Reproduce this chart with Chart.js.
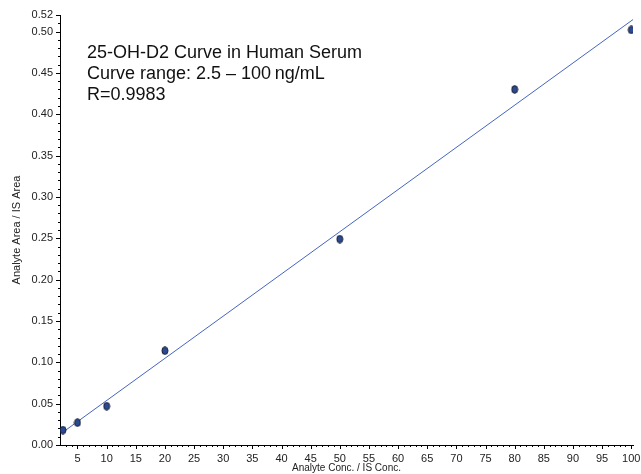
<!DOCTYPE html>
<html>
<head>
<meta charset="utf-8">
<script src="https://cdn.jsdelivr.net/npm/chart.js@4"></script>
<style>
  html, body { margin: 0; padding: 0; background: #fff; }
  canvas { display: block; }
</style>
</head>
<body>
<canvas id="curveChart" width="641" height="474"></canvas>
<script>
// calibration points
const concX = [2.5, 5, 10, 20, 50, 80, 100];
const ratioY = [0.018, 0.027, 0.047, 0.114, 0.249, 0.430, 0.502];
// regression line ends
const fitX = [2.5, 100.3];
const fitY = [0.0155, 0.5145];
// tick labels
const xTicks = [5, 10, 15, 20, 25, 30, 35, 40, 45, 50, 55, 60, 65, 70, 75, 80, 85, 90, 95, 100];
const yTicks = [0, 0.05, 0.10, 0.15, 0.20, 0.25, 0.30, 0.35, 0.40, 0.45, 0.50, 0.52];
const noteLines = ['25-OH-D2 Curve in Human Serum', 'Curve range: 2.5 \u2013 100\u2009ng/mL', 'R=0.9983'];

// oval marker
const dot = document.createElement('canvas');
dot.width = 8; dot.height = 9;
(function () {
    const c = dot.getContext('2d');
    c.beginPath();
    c.ellipse(4, 4.5, 3, 3.8, 0, 0, Math.PI * 2);
    c.fillStyle = '#2b4a93';
    c.fill();
    c.lineWidth = 1;
    c.strokeStyle = '#141a2e';
    c.stroke();
})();

const tickFont = { family: "'Liberation Sans Narrow', 'Liberation Sans', Arial, sans-serif", size: 11 };

// minor/major tick marks + the text block
const extras = {
    id: 'extras',
    afterDraw(chart) {
        const c = chart.ctx;
        const xs = chart.scales.x, ys = chart.scales.y;
        c.save();
        c.strokeStyle = '#000';
        c.lineWidth = 1;
        c.beginPath();
        for (let v = 3; v <= 100; v++) {
            const px = Math.round(xs.getPixelForValue(v)) + 0.5;
            const len = v % 5 === 0 ? 4 : 2;
            c.moveTo(px, xs.top);
            c.lineTo(px, xs.top + len);
        }
        for (let i = 0; i <= 52; i++) {
            const py = Math.round(ys.getPixelForValue(i / 100)) + 0.5;
            const len = (i % 5 === 0 || i === 52) ? 4 : 2;
            c.moveTo(ys.right, py);
            c.lineTo(ys.right - len, py);
        }
        c.stroke();
        c.fillStyle = '#111';
        c.font = "18px 'Liberation Sans', Arial, sans-serif";
        c.textBaseline = 'alphabetic';
        noteLines.forEach((t, i) => c.fillText(t, 87, 58 + i * 21));
        c.restore();
    }
};

const ctx = document.getElementById('curveChart').getContext('2d');
const curveChart = new Chart(ctx, {
    data: {
        datasets: [{
            type: 'line',
            label: 'fit',
            data: fitX.map((x, i) => ({ x: x, y: fitY[i] })),
            borderColor: '#4565c0',
            borderWidth: 1,
            pointRadius: 0,
            fill: false,
            order: 2
        }, {
            type: 'scatter',
            label: 'points',
            data: concX.map((x, i) => ({ x: x, y: ratioY[i] })),
            pointStyle: dot,
            pointRadius: 4,
            order: 1
        }]
    },
    options: {
        responsive: false,
        animation: false,
        layout: { padding: { top: 15, right: 8, left: 0, bottom: 0 } },
        scales: {
            x: {
                type: 'linear',
                min: 2,
                max: 100.3,
                afterBuildTicks: s => { s.ticks = xTicks.map(v => ({ value: v })); },
                afterFit: s => { s.height = 29; s.paddingLeft = 0; s.paddingRight = 0; },
                grid: { drawOnChartArea: false, drawTicks: false },
                border: { display: true, color: '#000', width: 1 },
                ticks: { font: tickFont, color: '#222', padding: 7, maxRotation: 0, autoSkip: false },
                title: {
                    display: true,
                    text: 'Analyte Conc. / IS Conc.',
                    font: { family: tickFont.family, size: 10 },
                    color: '#222',
                    padding: { top: 0, bottom: 0 }
                }
            },
            y: {
                type: 'linear',
                min: 0,
                max: 0.52,
                afterBuildTicks: s => { s.ticks = yTicks.map(v => ({ value: v })); },
                afterFit: s => { s.width = 60; s.paddingTop = 0; s.paddingBottom = 0; },
                grid: { drawOnChartArea: false, drawTicks: false },
                border: { display: true, color: '#000', width: 1 },
                ticks: {
                    font: tickFont, color: '#222', padding: 7, autoSkip: false,
                    callback: v => v.toFixed(2)
                },
                title: {
                    display: true,
                    text: 'Analyte Area / IS Area',
                    font: { family: tickFont.family, size: 11 },
                    color: '#222',
                    padding: { top: 10, bottom: 0 }
                }
            }
        },
        plugins: {
            legend: { display: false },
            tooltip: { enabled: false }
        }
    },
    plugins: [extras]
});
</script>
</body>
</html>
